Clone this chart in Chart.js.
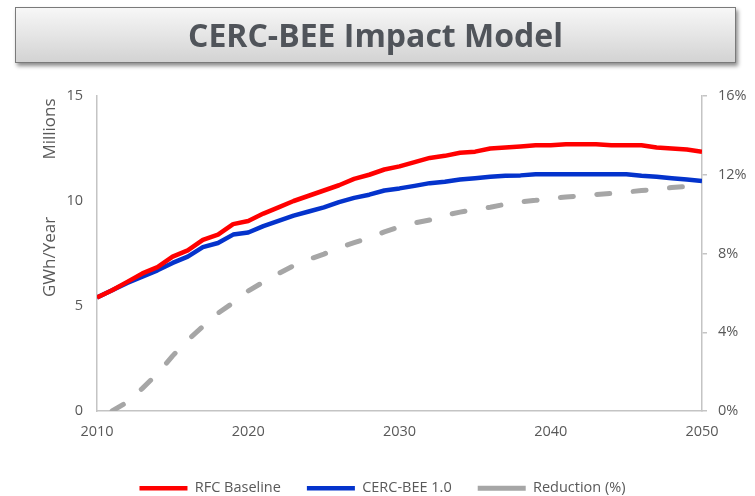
<!DOCTYPE html>
<html>
<head>
<meta charset="utf-8">
<script src="https://cdn.jsdelivr.net/npm/chart.js@4.4.0/dist/chart.umd.min.js"></script>
<style>
    html, body { margin: 0; padding: 0; background: #fff; }
    #wrap { position: relative; width: 755px; height: 496px; }
    #chart { position: absolute; left: 0; top: 0; }
    #titleBox {
        position: absolute; left: 15px; top: 7px; width: 721px; height: 56px;
        box-sizing: border-box; border: 1px solid #7a7a7a;
        background: linear-gradient(#f7f7f7, #d3d3d3);
        box-shadow: 2px 3px 4px rgba(0, 0, 0, 0.45);
        text-align: center; color: #50545a;
        font: bold 32px "Open Sans"; line-height: 53px;
    }
</style>
</head>
<body>
<div id="wrap">
    <canvas id="chart" width="755" height="496"></canvas>
    <div id="titleBox">CERC-BEE Impact Model</div>
</div>
<script>
const years = [2010, 2011, 2012, 2013, 2014, 2015, 2016, 2017, 2018, 2019,
               2020, 2021, 2022, 2023, 2024, 2025, 2026, 2027, 2028, 2029,
               2030, 2031, 2032, 2033, 2034, 2035, 2036, 2037, 2038, 2039,
               2040, 2041, 2042, 2043, 2044, 2045, 2046, 2047, 2048, 2049, 2050];

// GWh/Year, millions
const rfcBaseline = [5.4, 5.75, 6.15, 6.55, 6.85, 7.35, 7.65, 8.15, 8.4, 8.9,
                     9.05, 9.4, 9.7, 10.0, 10.25, 10.5, 10.75, 11.05, 11.25, 11.5,
                     11.65, 11.85, 12.05, 12.15, 12.3, 12.35, 12.5, 12.55, 12.6, 12.65,
                     12.65, 12.7, 12.7, 12.7, 12.65, 12.65, 12.65, 12.55, 12.5, 12.45, 12.35];

const cercBee = [5.4, 5.75, 6.1, 6.4, 6.7, 7.05, 7.35, 7.8, 8.0, 8.4,
                 8.5, 8.8, 9.05, 9.3, 9.5, 9.7, 9.95, 10.15, 10.3, 10.5,
                 10.6, 10.72, 10.85, 10.92, 11.02, 11.08, 11.15, 11.2, 11.22, 11.27,
                 11.27, 11.27, 11.27, 11.27, 11.27, 11.27, 11.2, 11.15, 11.08, 11.02, 10.95];

// percent
const reduction = [null, 0, 0.45, 1.15, 1.9, 2.8, 3.6, 4.3, 4.97, 5.5,
                   6.1, 6.55, 6.98, 7.38, 7.7, 7.97, 8.3, 8.55, 8.8, 9.1,
                   9.35, 9.55, 9.7, 9.95, 10.1, 10.25, 10.35, 10.5, 10.62, 10.7,
                   10.8, 10.87, 10.93, 11.0, 11.05, 11.12, 11.2, 11.25, 11.35, 11.4, 11.45];

const leftTicks = [0, 5, 10, 15];
const rightTicks = [0, 4, 8, 12, 16];
const xTicks = [2010, 2020, 2030, 2040, 2050];

const txtColor = "#595959";
const axisColor = "#c4c4c4";
const baseFont = { family: "Open Sans", size: 14.5 };

function toPoints(vals)
{
    return years.map(function (yr, i) { return { x: yr, y: vals[i] }; });
}

// rotated "Millions" and "GWh/Year" next to the left axis
const axisText = {
    id: "axisText",
    afterDraw(chart)
    {
        let c = chart.ctx;
        c.save();
        c.fillStyle = txtColor;
        c.font = "17px 'Open Sans'";
        c.textAlign = "center";
        c.textBaseline = "middle";
        [["Millions", 129], ["GWh/Year", 257]].forEach(function (t)
        {
            c.save();
            c.translate(50, t[1]);
            c.rotate(-Math.PI / 2);
            c.fillText(t[0], 0, 0);
            c.restore();
        });
        c.restore();
    }
};

// keep the wide item spacing but a short legend box, nudged a bit right
const legendHeight = {
    id: "legendHeight",
    beforeUpdate(chart)
    {
        let lg = chart.legend;
        if (lg && !lg._fixed)
        {
            let fit = lg.fit;
            let draw = lg.draw;
            lg.fit = function ()
            {
                fit.call(this);
                this.height = 41;
            };
            lg.draw = function ()
            {
                this.ctx.save();
                this.ctx.translate(5, 0);
                draw.call(this);
                this.ctx.restore();
            };
            lg._fixed = true;
        }
    }
};

new Chart(document.getElementById("chart"), {
    type: "line",
    data: {
        datasets: [
            {
                label: "RFC Baseline",
                data: toPoints(rfcBaseline),
                borderColor: "#ff0000",
                backgroundColor: "#ff0000",
                borderWidth: 4.5,
                borderJoinStyle: "round",
                yAxisID: "y"
            },
            {
                label: "CERC-BEE 1.0",
                data: toPoints(cercBee),
                borderColor: "#0433cc",
                backgroundColor: "#0433cc",
                borderWidth: 4.5,
                borderJoinStyle: "round",
                yAxisID: "y"
            },
            {
                label: "Reduction (%)",
                data: toPoints(reduction),
                borderColor: "#a6a6a6",
                backgroundColor: "#a6a6a6",
                borderWidth: 5,
                borderDash: [13, 23.5],
                borderCapStyle: "round",
                borderJoinStyle: "round",
                yAxisID: "y1"
            }
        ]
    },
    options: {
        responsive: false,
        animation: false,
        layout: { padding: { top: 96, left: 0, right: 0, bottom: 0 } },
        elements: { point: { radius: 0 }, line: { tension: 0 } },
        plugins: {
            legend: {
                position: "bottom",
                labels: {
                    usePointStyle: true,
                    pointStyle: "line",
                    pointStyleWidth: 48,
                    padding: 26,
                    color: txtColor,
                    font: baseFont
                }
            },
            tooltip: { enabled: false }
        },
        scales: {
            x: {
                type: "linear",
                min: xTicks[0],
                max: xTicks[xTicks.length - 1],
                afterBuildTicks: function (s) { s.ticks = xTicks.map(function (v) { return { value: v }; }); },
                ticks: { padding: 12, color: txtColor, font: baseFont, callback: function (v) { return String(v); } },
                grid: { display: false, drawTicks: false },
                border: { color: axisColor, width: 1.5 },
                afterFit: function (s) { s.height = 44; }
            },
            y: {
                position: "left",
                min: 0,
                max: 15,
                afterBuildTicks: function (s) { s.ticks = leftTicks.map(function (v) { return { value: v }; }); },
                ticks: { padding: 14, color: txtColor, font: baseFont },
                grid: { display: false, drawTicks: false },
                border: { color: axisColor, width: 1.5 },
                afterFit: function (s) { s.width = 97; }
            },
            y1: {
                position: "right",
                min: 0,
                max: 16,
                afterBuildTicks: function (s) { s.ticks = rightTicks.map(function (v) { return { value: v }; }); },
                ticks: { padding: 11, color: txtColor, font: baseFont, callback: function (v) { return v + "%"; } },
                grid: { display: true, drawOnChartArea: false, tickLength: 5, color: axisColor, lineWidth: 1.5 },
                border: { color: axisColor, width: 1.5 },
                afterFit: function (s) { s.width = 53; }
            }
        }
    },
    plugins: [axisText, legendHeight]
});
</script>
</body>
</html>
